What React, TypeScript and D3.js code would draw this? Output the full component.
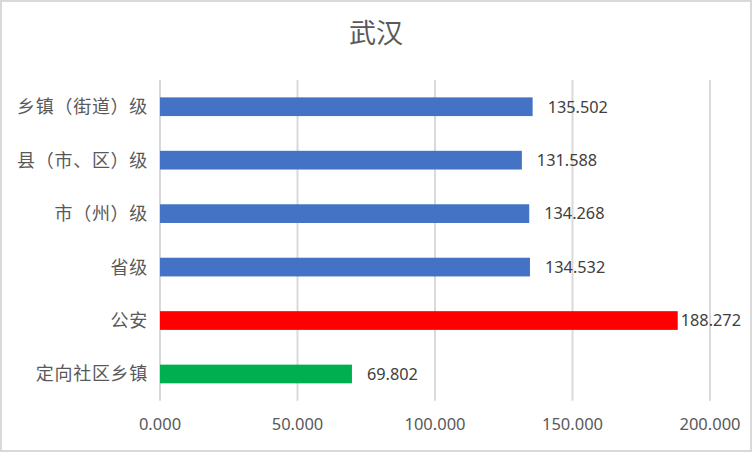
import React, { useEffect } from "react";
import * as d3 from "d3";

const categories = ["乡镇（街道）级", "县（市、区）级", "市（州）级", "省级", "公安", "定向社区乡镇"];
const values = [135.502, 131.588, 134.268, 134.532, 188.272, 69.802];
const barColors = ["#4472C4", "#4472C4", "#4472C4", "#4472C4", "#FF0000", "#00B050"];
const xTicks = [0, 50, 100, 150, 200];
const title = "武汉";

const W = 752;
const H = 452;
const left = 160;
const right = 710;
const top = 80;
const bottom = 400.7;

export default function App() {
  useEffect(() => {
    document.body.style.margin = "0";
  }, []);

  const x = d3.scaleLinear().domain([0, 200]).range([left, right]);
  const y = d3
    .scaleBand<string>()
    .domain(categories)
    .range([top, bottom])
    .paddingInner(0.65)
    .paddingOuter(0.325);
  const fmt = d3.format(".3f");
  const numFont = "'Noto Sans', 'DejaVu Sans', sans-serif";
  const cjkFont = "'Noto Sans CJK SC', 'Noto Sans', sans-serif";

  return (
    <svg width={W} height={H} style={{ display: "block" }}>
      <rect x={1} y={1} width={W - 2} height={H - 2} fill="#fff" stroke="#D9D9D9" strokeWidth={2} />
      <text x={376} y={43} textAnchor="middle" fontSize={27} fill="#595959" fontFamily={cjkFont}>
        {title}
      </text>
      {xTicks.map((t) => (
        <line key={"g" + t} x1={x(t)} x2={x(t)} y1={top} y2={bottom} stroke="#D9D9D9" strokeWidth={2} />
      ))}
      {categories.map((c, i) => {
        const by = y(c)!;
        const bh = y.bandwidth();
        const end = x(values[i]);
        const label = fmt(values[i]);
        const lx = end + 15 + 60 > 745 ? end + 3 : end + 15;
        return (
          <g key={c}>
            <rect x={x(0)} y={by} width={end - x(0)} height={bh} fill={barColors[i]} />
            <text
              x={lx}
              y={by + bh / 2}
              dy="0.36em"
              fontSize={16.3}
              fill="#404040"
              fontFamily={numFont}
            >
              {label}
            </text>
            <text
              x={148}
              y={by + bh / 2}
              dy="0.36em"
              textAnchor="end"
              fontSize={18}
              letterSpacing={0.7}
              fill="#595959"
              fontFamily={cjkFont}
            >
              {c}
            </text>
          </g>
        );
      })}
      {xTicks.map((t) => (
        <text
          key={"t" + t}
          x={x(t)}
          y={424}
          dy="0.36em"
          textAnchor="middle"
          fontSize={16.5}
          fill="#595959"
          fontFamily={numFont}
        >
          {fmt(t)}
        </text>
      ))}
    </svg>
  );
}
